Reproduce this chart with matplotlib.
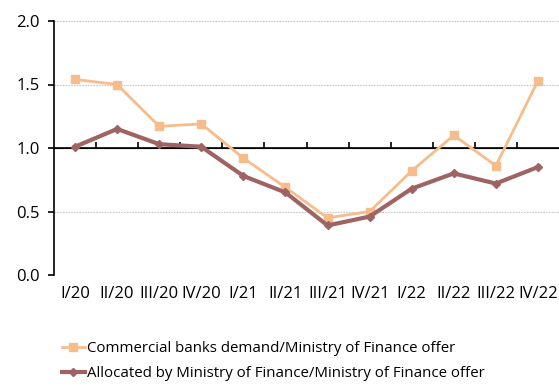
import matplotlib
matplotlib.use("Agg")
import matplotlib.pyplot as plt
import numpy as np

plt.rcParams['font.family'] = ['Open Sans', 'DejaVu Sans']

quarters = ["I/20", "II/20", "III/20", "IV/20", "I/21", "II/21",
            "III/21", "IV/21", "I/22", "II/22", "III/22", "IV/22"]
demand_ratio = [1.54, 1.50, 1.17, 1.19, 0.92, 0.69,
                0.45, 0.50, 0.82, 1.10, 0.86, 1.53]
allocated_ratio = [1.01, 1.15, 1.03, 1.01, 0.78, 0.65,
                   0.39, 0.46, 0.68, 0.80, 0.72, 0.85]
demand_label = "Commercial banks demand/Ministry of Finance offer"
allocated_label = "Allocated by Ministry of Finance/Ministry of Finance offer"
y_ticks = [0.0, 0.5, 1.0, 1.5, 2.0]

orange = "#F7BC8C"
brown = "#9E6463"

fig = plt.figure(figsize=(5.59, 3.89), dpi=100)
ax = fig.add_axes([54 / 559, 1 - 275 / 389, 1 - 54 / 559, (275 - 21) / 389])

x = np.arange(len(quarters))

# gridlines
for yv in y_ticks:
    ax.axhline(yv, color="#c8c8c8", lw=0.8, ls=(0, (1.5, 1.0)), zorder=0)

# reference line at 1.0 with quarter-boundary ticks
ax.axhline(1.0, color="black", lw=1.2, zorder=1)
sec = ax.secondary_xaxis(0.5)
sec.set_xticks(x[:-1] + 0.5)
sec.set_xticklabels([])
sec.tick_params(axis="x", direction="out", length=4, width=1.2, color="black")
sec.spines["bottom"].set_visible(False)

ax.plot(x, demand_ratio, color=orange, lw=2, marker="s", ms=6,
        label=demand_label, zorder=3)
ax.plot(x, allocated_ratio, color=brown, lw=3, marker="D", ms=4,
        label=allocated_label, zorder=4)

ax.set_xlim(-0.5, len(quarters) - 0.5)
ax.set_ylim(0, 2.0)
ax.set_yticks(y_ticks)
ax.set_yticklabels([f"{v:.1f}" for v in y_ticks])
ax.set_xticks(x)
ax.set_xticklabels(quarters)

for side in ["top", "right", "bottom"]:
    ax.spines[side].set_visible(False)
ax.spines["left"].set_linewidth(1.2)
ax.tick_params(axis="y", direction="out", length=4, width=1.2, pad=6,
               labelsize=12)
ax.tick_params(axis="x", length=0, pad=8, labelsize=12)

fig.legend(loc="upper left", bbox_to_anchor=(62 / 559, 1 - 341 / 389),
           frameon=False, fontsize=10.8, handlelength=1.5, handletextpad=0.15,
           labelspacing=0.65, borderpad=0, borderaxespad=0)

fig.savefig("out.png", dpi=100)
